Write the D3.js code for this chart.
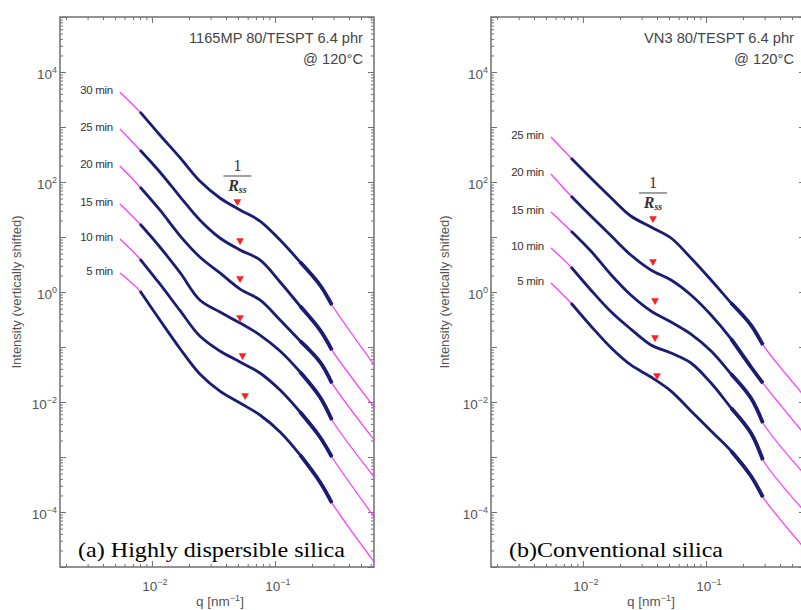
<!DOCTYPE html>
<html>
<head>
<meta charset="utf-8">
<script src="https://cdnjs.cloudflare.com/ajax/libs/d3/7.8.5/d3.min.js"></script>
<style>
  body { margin: 0; background: #fff; }
  svg { display: block; }
</style>
</head>
<body>
<svg id="chart" width="801" height="610"></svg>
<script>
/* ------------------------------- data ------------------------------- */
// q [nm^-1] shared by every curve; the last value is where the fit leaves the frame
const qValues = [0.0055, 0.008, 0.0116, 0.017, 0.0245, 0.0357, 0.052, 0.0755, 0.11, 0.16, 0.232, 0.29, 0.64];

// (a) 1165MP, intensity (vertically shifted)
const timesA = ['30 min', '25 min', '20 min', '15 min', '10 min', '5 min'];
const a30 = [4300, 1880, 716, 273, 104, 51.2, 31.0, 19.5, 8.8, 3.51, 1.34, 0.58, 0.0471];
const a25 = [920, 382, 152, 53.3, 20.4, 9.59, 5.81, 3.82, 1.52, 0.556, 0.204, 0.0881, 0.0081];
const a20 = [195, 81.1, 31.0, 10.4, 4.33, 2.22, 1.13, 0.716, 0.310, 0.129, 0.0534, 0.0221, 0.00204];
const a15 = [39.8, 17.2, 6.58, 2.22, 0.716, 0.433, 0.273, 0.165, 0.0846, 0.0351, 0.0123, 0.00471, 0.000433];
const a10 = [9.20, 3.98, 1.40, 0.452, 0.158, 0.0846, 0.0534, 0.0337, 0.0165, 0.00658, 0.00231, 0.001, 0.0000811];
const a05 = [2.22, 1.04, 0.310, 0.092, 0.0323, 0.0158, 0.0096, 0.0058, 0.00285, 0.00109, 0.000351, 0.000146, 0.0000123];
const rssQA = [0.0495, 0.052, 0.052, 0.052, 0.0545, 0.0572];
const rssIA = [41.5, 8.11, 1.65, 0.323, 0.0658, 0.0123];

// (b) VN3
const timesB = ['25 min', '20 min', '15 min', '10 min', '5 min'];
const b25 = [658, 273, 118, 51.2, 24.1, 15.2, 9.59, 4.15, 1.65, 0.631, 0.251, 0.109, 0.0123];
const b20 = [140, 55.6, 24.1, 10.4, 4.71, 2.51, 1.65, 0.882, 0.382, 0.140, 0.0433, 0.0221, 0.00251];
const b15 = [28.5, 12.9, 5.56, 2.04, 0.882, 0.452, 0.285, 0.172, 0.0846, 0.0323, 0.0118, 0.00415, 0.000471];
const b10 = [6.31, 2.85, 1.09, 0.433, 0.212, 0.109, 0.0778, 0.0512, 0.0221, 0.00778, 0.00273, 0.000882, 0.0001];
const b05 = [1.46, 0.631, 0.241, 0.0959, 0.0471, 0.0285, 0.0158, 0.00686, 0.00297, 0.00129, 0.000452, 0.000187, 0.0000212];
const rssQB = [0.0371, 0.0371, 0.0385, 0.0385, 0.040];
const rssIB = [20.4, 3.37, 0.658, 0.140, 0.0285];

// axis labels
const yLabelExps = [4, 2, 0, -2, -4];
const xLabelExps = [-2, -1];

/* ------------------------------ drawing ----------------------------- */
const svg = d3.select('#chart');
const navy = '#1c1c74';
const magenta = '#ff3cff';
const frameColor = '#707070';
const sans = 'Liberation Sans, Arial, sans-serif';
const serif = 'Liberation Serif, Times New Roman, serif';

const yMajor = d3.range(-5, 6).map(e => Math.pow(10, e));
const yMinor = [];
for (let e = -5; e < 5; e++) for (let m = 2; m < 10; m++) yMinor.push(m * Math.pow(10, e));
const xMajor = [0.01, 0.1];
const xMinor = [];
for (let e = -3; e < 0; e++) for (let m = 2; m < 10; m++) xMinor.push(m * Math.pow(10, e));

function powText(sel, exp) {
    sel.append('tspan').text('10');
    sel.append('tspan').attr('dy', -6).attr('font-size', 9)
        .text(exp < 0 ? '\u2212' + (-exp) : String(exp));
}

function drawPanel(opt) {
    const x = d3.scaleLog().domain([0.00179, 0.638]).range([opt.left, opt.left + 314]);
    const y = d3.scaleLog().domain([1e-5, 1e5]).range([567, 17]);
    const xMin = x.domain()[0], xMax = x.domain()[1];
    const xMinorIn = xMinor.filter(v => v > xMin && v < xMax);
    const g = svg.append('g');

    // ticks (all inward)
    const tickSets = [
        [d3.axisLeft(y), opt.left, 0, yMajor, yMinor],
        [d3.axisRight(y), opt.left + 314, 0, yMajor, yMinor],
        [d3.axisBottom(x), 0, 567, xMajor, xMinorIn],
        [d3.axisTop(x), 0, 17, xMajor, xMinorIn]
    ];
    tickSets.forEach(([ax, tx, ty, maj, min]) => {
        [[maj, -6], [min, -3]].forEach(([vals, len]) => {
            const a = g.append('g').attr('transform', `translate(${tx},${ty})`)
                .call(ax.tickValues(vals).tickSize(len).tickSizeOuter(0).tickFormat(''));
            a.select('.domain').remove();
            a.selectAll('line').attr('stroke', frameColor).attr('stroke-width', 1);
        });
    });

    // frame
    g.append('rect')
        .attr('x', opt.left).attr('y', 17).attr('width', 314).attr('height', 550)
        .attr('fill', 'none').attr('stroke', frameColor).attr('stroke-width', 1.5);

    // tick labels
    yLabelExps.forEach(e => {
        g.append('text')
            .attr('x', opt.left - 3).attr('y', y(Math.pow(10, e)) + 7)
            .attr('text-anchor', 'end').attr('font-family', sans)
            .attr('font-size', 13.5).attr('fill', '#555')
            .call(powText, e);
    });
    xLabelExps.forEach(e => {
        g.append('text')
            .attr('x', x(Math.pow(10, e)) + 3).attr('y', 591)
            .attr('text-anchor', 'middle').attr('font-family', sans)
            .attr('font-size', 13.5).attr('fill', '#555')
            .call(powText, e);
    });

    // axis titles
    const xt = g.append('text')
        .attr('x', opt.left + 160).attr('y', 606)
        .attr('text-anchor', 'middle').attr('font-family', sans)
        .attr('font-size', 13.5).attr('fill', '#555');
    xt.append('tspan').text('q [nm');
    xt.append('tspan').attr('dy', -5).attr('font-size', 9).text('\u22121');
    xt.append('tspan').attr('dy', 5).text(']');

    g.append('text')
        .attr('transform', `translate(${opt.yTitleX},292) rotate(-90)`)
        .attr('text-anchor', 'middle').attr('font-family', sans)
        .attr('font-size', 13).attr('fill', '#555')
        .text('Intensity (vertically shifted)');

    // curves: magenta fit under the navy data
    const line = d3.line().x(d => x(d[0])).y(d => y(d[1])).curve(d3.curveCatmullRom.alpha(0.5));
    opt.series.forEach((vals, i) => {
        const pts = qValues.map((q, k) => [q, vals[k]]);
        g.append('path').attr('d', line(pts))
            .attr('fill', 'none').attr('stroke', magenta).attr('stroke-width', 1.3);
        g.append('path').attr('d', line(pts.slice(1, 12)))
            .attr('fill', 'none').attr('stroke', navy).attr('stroke-width', 2.8);
        g.append('path').attr('d', line(pts.slice(9, 12)))
            .attr('fill', 'none').attr('stroke', navy).attr('stroke-width', 3.8);

        g.append('text')
            .attr('x', x(qValues[0]) - 7).attr('y', y(vals[0]) - 2).attr('dy', '0.35em')
            .attr('text-anchor', 'end').attr('font-family', sans)
            .attr('font-size', 11.5).attr('letter-spacing', -0.3).attr('fill', '#333')
            .text(opt.times[i]);
    });

    // 1/Rss markers
    const tri = d3.symbol().type(d3.symbolTriangle).size(26);
    opt.rssQ.forEach((q, i) => {
        g.append('path').attr('d', tri())
            .attr('transform', `translate(${x(q)},${y(opt.rssI[i]) - 1.5}) rotate(180)`)
            .attr('fill', '#ff2020');
    });
    const fx = x(opt.rssQ[0]), fy = y(opt.rssI[0]);
    g.append('text').attr('x', fx).attr('y', fy - 32)
        .attr('text-anchor', 'middle').attr('font-family', serif)
        .attr('font-size', 16).attr('fill', '#333').text('1');
    g.append('line').attr('x1', fx - 14).attr('x2', fx + 14).attr('y1', fy - 27).attr('y2', fy - 27)
        .attr('stroke', '#444').attr('stroke-width', 1);
    const r = g.append('text').attr('x', fx).attr('y', fy - 12)
        .attr('text-anchor', 'middle').attr('font-family', serif)
        .attr('font-style', 'italic').attr('font-weight', 'bold').attr('font-size', 16).attr('fill', '#333');
    r.append('tspan').text('R');
    r.append('tspan').attr('font-size', 10).attr('dy', 2).text('ss');

    // sample text
    g.append('text')
        .attr('x', opt.left + 303).attr('y', 43)
        .attr('text-anchor', 'end').attr('font-family', sans)
        .attr('font-size', 15).attr('fill', '#444')
        .attr('textLength', opt.titleLen).attr('lengthAdjust', 'spacingAndGlyphs')
        .text(opt.title);
    g.append('text')
        .attr('x', opt.left + 303).attr('y', 64)
        .attr('text-anchor', 'end').attr('font-family', sans)
        .attr('font-size', 15).attr('fill', '#444')
        .attr('textLength', 60).attr('lengthAdjust', 'spacingAndGlyphs')
        .text('@ 120\u00b0C');

    // caption
    g.append('text')
        .attr('x', opt.left + 18).attr('y', 557)
        .attr('font-family', serif)
        .attr('font-size', 21).attr('fill', '#000')
        .attr('textLength', opt.captionLen).attr('lengthAdjust', 'spacingAndGlyphs')
        .text(opt.caption);
}

drawPanel({
    left: 60, yTitleX: 21,
    series: [a30, a25, a20, a15, a10, a05], times: timesA,
    rssQ: rssQA, rssI: rssIA,
    title: '1165MP 80/TESPT 6.4 phr', titleLen: 174,
    caption: '(a) Highly dispersible silica', captionLen: 267
});
drawPanel({
    left: 491, yTitleX: 449,
    series: [b25, b20, b15, b10, b05], times: timesB,
    rssQ: rssQB, rssI: rssIB,
    title: 'VN3 80/TESPT 6.4 phr', titleLen: 150,
    caption: '(b)Conventional silica', captionLen: 214
});
</script>
</body>
</html>
